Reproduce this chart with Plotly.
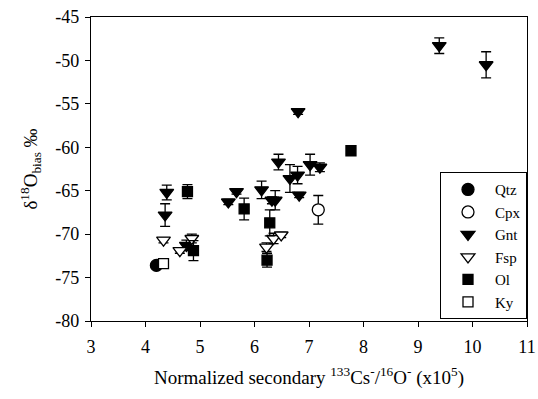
import plotly.graph_objects as go

# ---- data ----
qtz_x = [4.20]
qtz_y = [-73.6]
qtz_e = [0.3]

cpx_x = [7.17]
cpx_y = [-67.2]
cpx_e = [1.65]

gnt_x = [4.39, 4.36, 4.75, 5.52, 5.67, 6.13, 6.32, 6.38, 6.44, 6.65, 6.79, 6.82, 7.02, 7.20, 6.80, 9.39, 10.25]
gnt_y = [-65.2, -67.8, -71.3, -66.3, -65.1, -64.9, -66.1, -66.1, -61.7, -63.6, -63.2, -65.5, -62.0, -62.3, -55.9, -48.3, -50.5]
gnt_e = [0.85, 1.3, 0.6, 0.3, 0.3, 1.0, 0.4, 1.1, 0.9, 1.6, 1.0, 0.3, 1.2, 0.5, 0.3, 0.9, 1.5]

fsp_x = [4.33, 4.63, 4.85, 6.35, 6.49, 6.22]
fsp_y = [-70.7, -71.9, -70.5, -70.5, -70.1, -71.5]
fsp_e = [0.3, 0.3, 0.5, 0.6, 0.3, 0.5]

ol_x = [4.77, 4.88, 5.81, 6.28, 6.23, 7.77]
ol_y = [-65.1, -71.9, -67.1, -68.7, -73.0, -60.4]
ol_e = [0.8, 1.15, 1.25, 1.5, 0.8, 0.3]

ky_x = [4.33]
ky_y = [-73.4]
ky_e = [0.3]

x_ticks = [3, 4, 5, 6, 7, 8, 9, 10, 11]
y_ticks = [-80, -75, -70, -65, -60, -55, -50, -45]

FONT = "Liberation Serif, 'Times New Roman', serif"

series = [
    ("Qtz", qtz_x, qtz_y, qtz_e, "circle", "black", 12),
    ("Cpx", cpx_x, cpx_y, cpx_e, "circle", "white", 12),
    ("Gnt", gnt_x, gnt_y, gnt_e, "triangle-down", "black", 12),
    ("Fsp", fsp_x, fsp_y, fsp_e, "triangle-down", "white", 12),
    ("Ol", ol_x, ol_y, ol_e, "square", "black", 10),
    ("Ky", ky_x, ky_y, ky_e, "square", "white", 10),
]

fig = go.Figure()
for name, xs, ys, es, sym, fill, sz in series:
    fig.add_trace(go.Scatter(
        x=xs, y=ys, mode="markers", name=name,
        marker=dict(symbol=sym, size=sz, color=fill,
                    line=dict(color="black", width=1.3)),
        error_y=dict(type="data", array=es, visible=True,
                     color="black", thickness=1.3, width=5),
    ))

fig.update_layout(
    template="none",
    width=538, height=399,
    margin=dict(l=91, r=11, t=17, b=78),
    paper_bgcolor="white", plot_bgcolor="white",
    font=dict(family=FONT, size=18, color="black"),
    showlegend=True,
    legend=dict(
        x=1, y=0.006, xanchor="right", yanchor="bottom",
        bordercolor="black", borderwidth=1, bgcolor="white",
        font=dict(family=FONT, size=15, color="black"),
        itemwidth=44, tracegroupgap=0,
    ),
)
fig.update_xaxes(
    range=[3, 11], tickvals=x_ticks, ticktext=[str(v) for v in x_ticks],
    tickfont=dict(family=FONT, size=18, color="black"),
    ticklabeloverflow="allow", ticklabelstandoff=4,
    showline=True, linecolor="black", linewidth=1.2, mirror=True,
    ticks="outside", ticklen=5, tickcolor="black", showgrid=False, zeroline=False,
    title=dict(text="Normalized secondary <sup>133</sup>Cs<sup>-</sup>/<sup>16</sup>O<sup>-</sup> (x10<sup>5</sup>)",
               font=dict(family=FONT, size=19, color="black"), standoff=14),
)
fig.update_yaxes(
    range=[-80, -45], tickvals=y_ticks, ticktext=[str(v) for v in y_ticks],
    tickfont=dict(family=FONT, size=18, color="black"),
    ticklabelstandoff=2,
    showline=True, linecolor="black", linewidth=1.2, mirror=True,
    ticks="outside", ticklen=5, tickcolor="black", showgrid=False, zeroline=False,
    title=dict(text="δ<sup>18</sup>O<sub>bias</sub> ‰",
               font=dict(family=FONT, size=19, color="black"), standoff=12),
)

fig.write_html("out.html", config={"displayModeBar": False},
               post_script="document.body.style.margin='0';")
